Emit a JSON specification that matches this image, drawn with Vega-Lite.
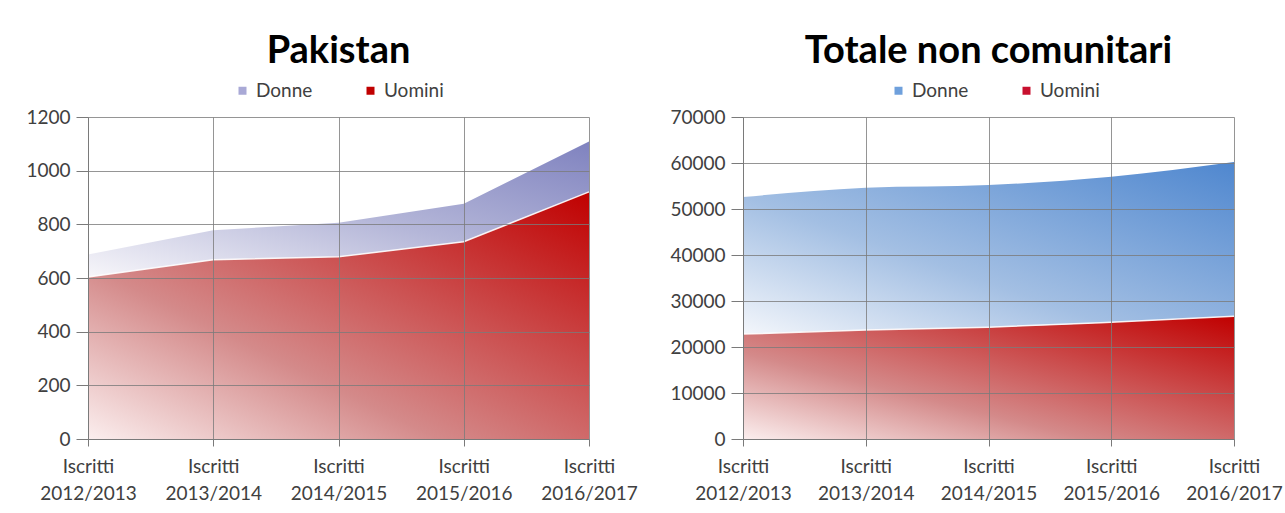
{
  "$schema": "https://vega.github.io/schema/vega-lite/v6.json",
  "padding": {"left": 25, "top": 33, "right": 5, "bottom": 5},
  "background": "#ffffff",
  "datasets": {
    "dati": [
      {"panel": "Pakistan", "anno": "2012/2013", "sesso": "Uomini", "n": 604},
      {"panel": "Pakistan", "anno": "2013/2014", "sesso": "Uomini", "n": 668},
      {"panel": "Pakistan", "anno": "2014/2015", "sesso": "Uomini", "n": 679},
      {"panel": "Pakistan", "anno": "2015/2016", "sesso": "Uomini", "n": 735},
      {"panel": "Pakistan", "anno": "2016/2017", "sesso": "Uomini", "n": 921},
      {"panel": "Pakistan", "anno": "2012/2013", "sesso": "Donne", "n": 84},
      {"panel": "Pakistan", "anno": "2013/2014", "sesso": "Donne", "n": 110},
      {"panel": "Pakistan", "anno": "2014/2015", "sesso": "Donne", "n": 127},
      {"panel": "Pakistan", "anno": "2015/2016", "sesso": "Donne", "n": 142},
      {"panel": "Pakistan", "anno": "2016/2017", "sesso": "Donne", "n": 188},
      {"panel": "Totale", "anno": "2012/2013", "sesso": "Uomini", "n": 22800},
      {"panel": "Totale", "anno": "2013/2014", "sesso": "Uomini", "n": 23700},
      {"panel": "Totale", "anno": "2014/2015", "sesso": "Uomini", "n": 24300},
      {"panel": "Totale", "anno": "2015/2016", "sesso": "Uomini", "n": 25400},
      {"panel": "Totale", "anno": "2016/2017", "sesso": "Uomini", "n": 26700},
      {"panel": "Totale", "anno": "2012/2013", "sesso": "Donne", "n": 29800},
      {"panel": "Totale", "anno": "2013/2014", "sesso": "Donne", "n": 30900},
      {"panel": "Totale", "anno": "2014/2015", "sesso": "Donne", "n": 30900},
      {"panel": "Totale", "anno": "2015/2016", "sesso": "Donne", "n": 31600},
      {"panel": "Totale", "anno": "2016/2017", "sesso": "Donne", "n": 33500}
    ]
  },
  "hconcat": [
    {
      "title": {"text": "Pakistan", "fontSize": 38, "fontWeight": "bold", "color": "#000000", "anchor": "middle", "offset": 10},
      "width": 501,
      "height": 322,
      "data": {"name": "dati"},
      "transform": [
        {"filter": "datum.panel === 'Pakistan'"},
        {"stack": "n", "groupby": ["anno"], "sort": [{"field": "sesso", "order": "descending"}], "as": ["y0", "y1"]}
      ],
      "encoding": {
        "x": {"field": "anno", "type": "ordinal", "sort": null, "scale": {"type": "point", "padding": 0}, "axis": {"title": null, "labelExpr": "['Iscritti', datum.label]", "labelAngle": 0, "grid": true, "tickSize": 7, "labelPadding": 11, "zindex": 1}},
        "y": {"field": "y1", "type": "quantitative", "scale": {"domain": [0, 1200]}, "axis": {"title": null, "values": [0, 200, 400, 600, 800, 1000, 1200], "format": "d", "grid": true, "tickSize": 12, "labelPadding": 6, "zindex": 1}}
      },
      "layer": [
        {
          "transform": [{"filter": "datum.sesso === 'Donne'"}],
          "mark": {"type": "area", "fill": {"gradient": "linear", "x1": 0, "y1": 1, "x2": 1, "y2": 0, "stops": [{"offset": 0, "color": "#f7f6fa"}, {"offset": 0.5, "color": "#b4b6d8"}, {"offset": 1, "color": "#7f82bf"}]}},
          "encoding": {"y2": {"field": "y0"}}
        },
        {
          "transform": [{"filter": "datum.sesso === 'Uomini'"}],
          "mark": {"type": "area", "fill": {"gradient": "linear", "x1": 0, "y1": 1, "x2": 1, "y2": 0, "stops": [{"offset": 0, "color": "#fbeeee"}, {"offset": 0.35, "color": "#d48a8a"}, {"offset": 1, "color": "#c00000"}]}},
          "encoding": {"y2": {"field": "y0"}}
        },
        {
          "transform": [{"filter": "datum.sesso === 'Uomini'"}],
          "mark": {"type": "line", "color": "#ffffff", "strokeWidth": 1.5, "opacity": 0.9},
          "encoding": {}
        },
        {
          "mark": {"type": "square", "opacity": 0},
          "encoding": {
            "color": {"field": "sesso", "type": "nominal", "scale": {"domain": ["Donne", "Uomini"], "range": ["#a9a9d6", "#c00000"]},
              "legend": {"orient": "none", "legendX": 145, "legendY": -36, "direction": "horizontal", "title": null, "symbolType": "square", "symbolSize": 64, "symbolOpacity": 1, "labelFontSize": 19, "labelColor": "#404040", "columnPadding": 48}}
          }
        }
      ]
    },
    {
      "title": {"text": "Totale non comunitari", "fontSize": 38, "fontWeight": "bold", "color": "#000000", "anchor": "middle", "offset": 10},
      "width": 491,
      "height": 322,
      "data": {"name": "dati"},
      "transform": [
        {"filter": "datum.panel === 'Totale'"},
        {"stack": "n", "groupby": ["anno"], "sort": [{"field": "sesso", "order": "descending"}], "as": ["y0", "y1"]}
      ],
      "encoding": {
        "x": {"field": "anno", "type": "ordinal", "sort": null, "scale": {"type": "point", "padding": 0}, "axis": {"title": null, "labelExpr": "['Iscritti', datum.label]", "labelAngle": 0, "grid": true, "tickSize": 7, "labelPadding": 11, "zindex": 1}},
        "y": {"field": "y1", "type": "quantitative", "scale": {"domain": [0, 70000]}, "axis": {"title": null, "values": [0, 10000, 20000, 30000, 40000, 50000, 60000, 70000], "format": "d", "grid": true, "tickSize": 12, "labelPadding": 6, "zindex": 1}}
      },
      "layer": [
        {
          "transform": [{"filter": "datum.sesso === 'Donne'"}],
          "mark": {"type": "area", "interpolate": "monotone", "fill": {"gradient": "linear", "x1": 0, "y1": 1, "x2": 1, "y2": 0, "stops": [{"offset": 0, "color": "#f3f6fb"}, {"offset": 0.4, "color": "#a3bfe3"}, {"offset": 1, "color": "#4f87cf"}]}},
          "encoding": {"y2": {"field": "y0"}}
        },
        {
          "transform": [{"filter": "datum.sesso === 'Uomini'"}],
          "mark": {"type": "area", "interpolate": "monotone", "fill": {"gradient": "linear", "x1": 0, "y1": 1, "x2": 1, "y2": 0, "stops": [{"offset": 0, "color": "#fbeeee"}, {"offset": 0.35, "color": "#d48a8a"}, {"offset": 1, "color": "#c00000"}]}},
          "encoding": {"y2": {"field": "y0"}}
        },
        {
          "transform": [{"filter": "datum.sesso === 'Uomini'"}],
          "mark": {"type": "line", "interpolate": "monotone", "color": "#ffffff", "strokeWidth": 1.5, "opacity": 0.9},
          "encoding": {}
        },
        {
          "mark": {"type": "square", "opacity": 0},
          "encoding": {
            "color": {"field": "sesso", "type": "nominal", "scale": {"domain": ["Donne", "Uomini"], "range": ["#6fa0dc", "#c8102e"]},
              "legend": {"orient": "none", "legendX": 146, "legendY": -36, "direction": "horizontal", "title": null, "symbolType": "square", "symbolSize": 64, "symbolOpacity": 1, "labelFontSize": 19, "labelColor": "#404040", "columnPadding": 48}}
          }
        }
      ]
    }
  ],
  "spacing": 31,
  "resolve": {"scale": {"color": "independent"}},
  "config": {
    "font": "Lato",
    "view": {"stroke": null},
    "axis": {
      "gridColor": "#7a7a7a",
      "gridOpacity": 0.8,
      "gridWidth": 1,
      "domainColor": "#7a7a7a",
      "tickColor": "#7a7a7a",
      "labelFontSize": 19,
      "labelColor": "#404040",
      "labelLineHeight": 27
    }
  }
}
